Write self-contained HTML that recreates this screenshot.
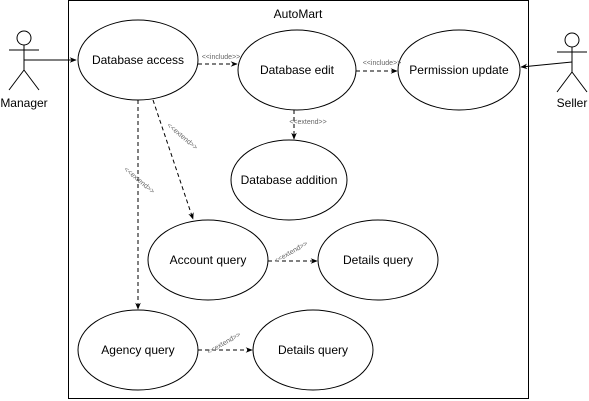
<!DOCTYPE html>
<html><head><style>body{margin:0;background:#fff}svg{display:block}</style></head><body>
<svg width="589" height="401" viewBox="0 0 589 401" xmlns="http://www.w3.org/2000/svg" font-family="Liberation Sans, Arial, sans-serif">
<defs><marker id="a" viewBox="0 0 10 10" refX="9" refY="5" markerWidth="7" markerHeight="7" orient="auto"><path d="M0,1 L10,5 L0,9 L3,5z" fill="#000"/></marker></defs>
<rect x="68.5" y="0.5" width="460" height="398" fill="#fff" stroke="#000"/>
<text x="298" y="18" font-size="12" text-anchor="middle">AutoMart</text>
<g fill="#fff" stroke="#000">
<ellipse cx="138" cy="60" rx="60" ry="40"/>
<ellipse cx="297" cy="70" rx="59" ry="40"/>
<ellipse cx="459" cy="70" rx="61" ry="40"/>
<ellipse cx="289" cy="180" rx="58" ry="40"/>
<ellipse cx="208" cy="260" rx="60" ry="40"/>
<ellipse cx="378" cy="260" rx="60" ry="40"/>
<ellipse cx="138" cy="350" rx="60" ry="40"/>
<ellipse cx="313" cy="350" rx="60" ry="40"/>
</g>
<g font-size="12" text-anchor="middle">
<text x="138" y="64">Database access</text>
<text x="297" y="74">Database edit</text>
<text x="459" y="74">Permission update</text>
<text x="289" y="184">Database addition</text>
<text x="208" y="264">Account query</text>
<text x="378" y="264">Details query</text>
<text x="138" y="354">Agency query</text>
<text x="313" y="354">Details query</text>
</g>
<g stroke="#000" fill="none">
<circle cx="24" cy="38" r="7"/><path d="M24 45V70M9 50H39M24 70L9 90M24 70L39 90"/>
<circle cx="572" cy="40" r="7"/><path d="M572 47V72M557 52H587M572 72L557 92M572 72L587 92"/>
<path d="M24 60H76" marker-end="url(#a)"/>
<path d="M572 62L521 67" marker-end="url(#a)"/>
<g stroke-dasharray="4 3">
<path d="M198 64H237" marker-end="url(#a)"/>
<path d="M356 71H397" marker-end="url(#a)"/>
<path d="M294 110V139" marker-end="url(#a)"/>
<path d="M153 100L193 219" marker-end="url(#a)"/>
<path d="M138 100V309" marker-end="url(#a)"/>
<path d="M268 261H317" marker-end="url(#a)"/>
<path d="M198 350H252" marker-end="url(#a)"/>
</g></g>
<g font-size="7" fill="#666" text-anchor="middle">
<text x="221" y="59">&lt;&lt;include&gt;&gt;</text>
<text x="382" y="65">&lt;&lt;include&gt;&gt;</text>
<text x="308" y="124">&lt;&lt;extend&gt;&gt;</text>
<text transform="translate(181,138) rotate(40)">&lt;&lt;extend&gt;&gt;</text>
<text transform="translate(138,182) rotate(40)">&lt;&lt;extend&gt;&gt;</text>
<text transform="translate(292,254) rotate(-30)">&lt;&lt;extend&gt;&gt;</text>
<text transform="translate(225,345) rotate(-30)">&lt;&lt;extend&gt;&gt;</text>
</g>
<g font-size="12" text-anchor="middle">
<text x="24" y="107">Manager</text>
<text x="572" y="107">Seller</text>
</g>
</svg>
</body></html>
